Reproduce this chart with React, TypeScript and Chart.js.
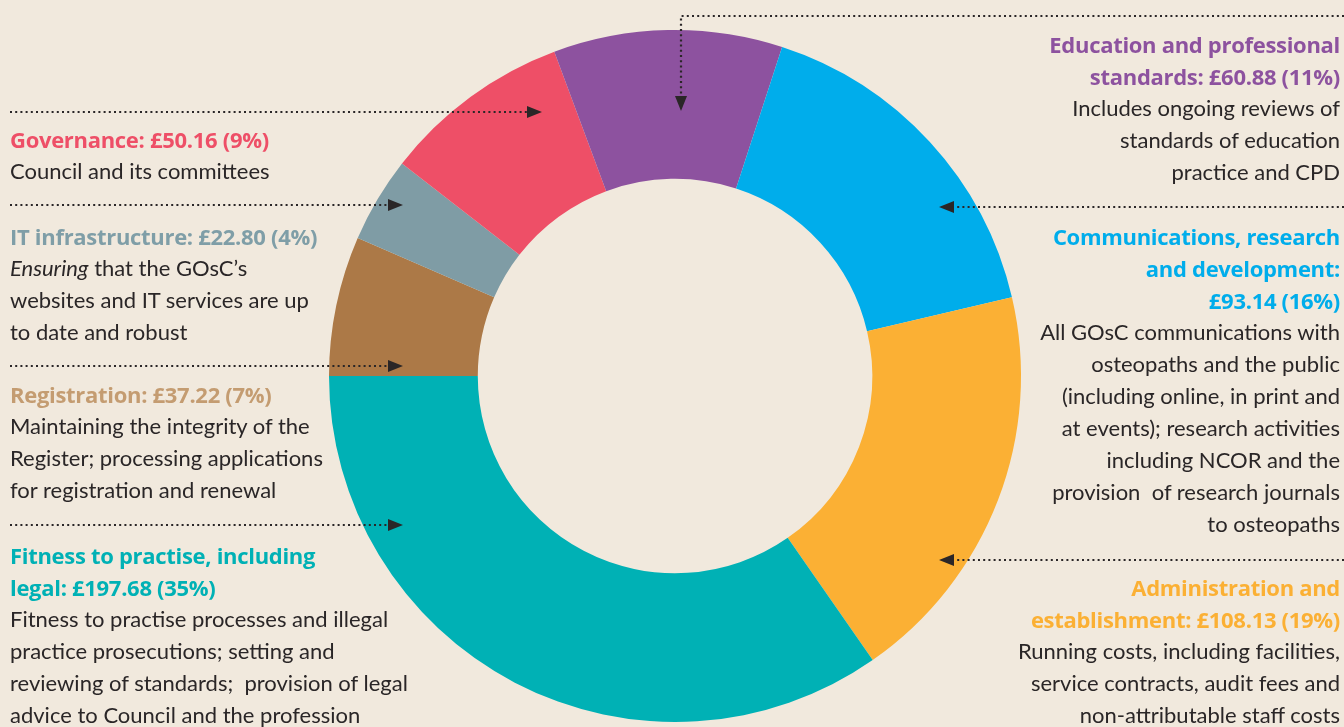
import React, { useEffect, useRef } from "react";
import { Chart, registerables } from "chart.js";

Chart.register(...registerables);

const categories = [
  "Registration",
  "IT infrastructure",
  "Governance",
  "Education and professional standards",
  "Communications, research and development",
  "Administration and establishment",
  "Fitness to practise, including legal",
];
const values = [37.22, 22.8, 50.16, 60.88, 93.14, 108.13, 197.68];
const sliceColors = ["#AC7947", "#7F9CA5", "#EE4F67", "#8D529F", "#00ADEB", "#FBB034", "#00B1B5"];

const BG = "#F1E9DD";
const INK = "#2A2627";
const BODY_FONT = "Lato, 'Open Sans', sans-serif";
const HEAD_FONT = "'Open Sans', Lato, sans-serif";

type Note = {
  side: "left" | "right";
  top: number;
  color: string;
  heading: string[];
  body: React.ReactNode[];
};

const notes: Note[] = [
  { side: "left", top: 123, color: "#EE4F67", heading: ["Governance: £50.16 (9%)"], body: ["Council and its committees"] },
  {
    side: "left", top: 220, color: "#7F9EA7", heading: ["IT infrastructure: £22.80 (4%)"],
    body: [<><i>Ensuring</i> that the GOsC’s</>, "websites and IT services are up", "to date and robust"],
  },
  {
    side: "left", top: 378, color: "#C49C71", heading: ["Registration: £37.22 (7%)"],
    body: ["Maintaining the integrity of the", "Register; processing applications", "for registration and renewal"],
  },
  {
    side: "left", top: 539, color: "#00B1B5", heading: ["Fitness to practise, including", "legal: £197.68 (35%)"],
    body: ["Fitness to practise processes and illegal", "practice prosecutions; setting and", "reviewing of standards;  provision of legal", "advice to Council and the profession"],
  },
  {
    side: "right", top: 28, color: "#8D529F", heading: ["Education and professional", "standards: £60.88 (11%)"],
    body: ["Includes ongoing reviews of", "standards of education", "practice and CPD"],
  },
  {
    side: "right", top: 220, color: "#00ADEB", heading: ["Communications, research", "and development:", "£93.14 (16%)"],
    body: ["All GOsC communications with", "osteopaths and the public", "(including online, in print and", "at events); research activities", "including NCOR and the", "provision  of research journals", "to osteopaths"],
  },
  {
    side: "right", top: 571, color: "#FBB034", heading: ["Administration and", "establishment: £108.13 (19%)"],
    body: ["Running costs, including facilities,", "service contracts, audit fees and", "non-attributable staff costs"],
  },
];

type Leader = { pts: [number, number][]; dir: "right" | "left" | "down" };
const leaders: Leader[] = [
  { pts: [[10, 112], [527, 112]], dir: "right" },
  { pts: [[10, 205], [388, 205]], dir: "right" },
  { pts: [[10, 366], [388, 366]], dir: "right" },
  { pts: [[10, 525], [388, 525]], dir: "right" },
  { pts: [[1344, 16], [681, 16], [681, 96]], dir: "down" },
  { pts: [[1344, 207], [954, 207]], dir: "left" },
  { pts: [[1344, 560], [954, 560]], dir: "left" },
];

const leaderPlugin = {
  id: "leaders",
  afterDraw(chart: any) {
    const ctx = chart.ctx as CanvasRenderingContext2D;
    ctx.save();
    ctx.strokeStyle = INK;
    ctx.fillStyle = INK;
    ctx.lineWidth = 2.2;
    ctx.setLineDash([2, 3.2]);
    for (const l of leaders) {
      ctx.beginPath();
      l.pts.forEach(([x, y], i) => (i === 0 ? ctx.moveTo(x, y) : ctx.lineTo(x, y)));
      ctx.stroke();
      const [ex, ey] = l.pts[l.pts.length - 1];
      ctx.beginPath();
      if (l.dir === "right") {
        ctx.moveTo(ex, ey - 6); ctx.lineTo(ex + 15, ey); ctx.lineTo(ex, ey + 6);
      } else if (l.dir === "left") {
        ctx.moveTo(ex, ey - 6); ctx.lineTo(ex - 15, ey); ctx.lineTo(ex, ey + 6);
      } else {
        ctx.moveTo(ex - 6, ey); ctx.lineTo(ex, ey + 15); ctx.lineTo(ex + 6, ey);
      }
      ctx.closePath();
      ctx.fill();
    }
    ctx.restore();
  },
};

export default function App() {
  const ref = useRef<HTMLCanvasElement>(null);
  useEffect(() => {
    if (!ref.current) return;
    const chart = new Chart(ref.current, {
      type: "doughnut",
      data: {
        labels: categories,
        datasets: [{ data: values, backgroundColor: sliceColors, borderWidth: 0, hoverOffset: 0 }],
      },
      options: {
        responsive: false,
        animation: false,
        rotation: -90,
        cutout: "57%",
        layout: { padding: { left: 329, right: 323, top: 30, bottom: 5 } },
        plugins: { legend: { display: false }, tooltip: { enabled: false } },
      },
      plugins: [leaderPlugin],
    });
    return () => chart.destroy();
  }, []);

  return (
    <div style={{ position: "fixed", left: 0, top: 0, width: 1344, height: 727, background: BG, overflow: "hidden", fontFamily: BODY_FONT }}>
      <canvas ref={ref} width={1344} height={727} style={{ position: "absolute", left: 0, top: 0 }} />
      {notes.map((n, i) => (
        <div
          key={i}
          style={{
            position: "absolute",
            top: n.top,
            ...(n.side === "left" ? { left: 10, textAlign: "left" as const } : { right: 4, textAlign: "right" as const }),
            fontSize: 22,
            lineHeight: "32px",
            whiteSpace: "pre",
            color: INK,
          }}
        >
          {n.heading.map((h, j) => (
            <div key={"h" + j} style={{ color: n.color, fontWeight: 700, fontFamily: HEAD_FONT, fontSize: 22, letterSpacing: -0.3 }}>{h}</div>
          ))}
          {n.body.map((b, j) => (
            <div key={"b" + j}>{b}</div>
          ))}
        </div>
      ))}
    </div>
  );
}
